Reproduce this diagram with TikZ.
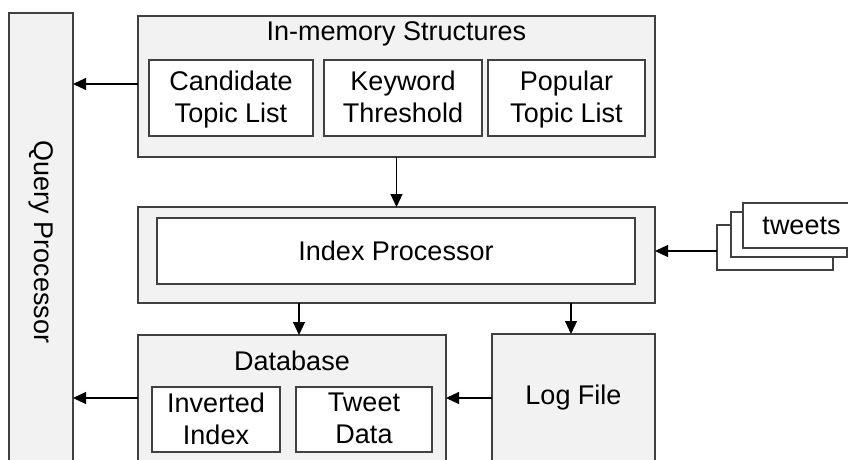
\documentclass[tikz,border=0pt]{standalone}
\usepackage{fontspec}
\setmainfont{Liberation Sans}
\usetikzlibrary{arrows.meta}
\definecolor{outerfill}{HTML}{F2F2F2}
\definecolor{edgecol}{HTML}{404040}
\begin{document}
\begin{tikzpicture}[x=1pt,y=-1pt,
  outerbox/.style={draw=edgecol,line width=1.2pt,fill=outerfill,inner sep=0pt,outer sep=0pt},
  innerbox/.style={draw=edgecol,line width=1.2pt,fill=white,inner sep=0pt,outer sep=0pt,align=center},
  twoline/.style={innerbox,text depth=2pt},
  lbl/.style={inner sep=0pt,align=center},
  arr/.style={line width=1.1pt,draw=black,-{Triangle[length=13pt,width=12pt]}},
  font=\fontsize{27}{32}\selectfont]
\clip (0,0) rectangle (848,460);
\fill[white] (0,0) rectangle (848,460);
% Query processor
\node[outerbox,rotate=-90,minimum width=458pt,minimum height=64pt] (qp) at (41,242) {Query Processor};
% In-memory structures
\node[outerbox,minimum width=517pt,minimum height=141pt] (inmem) at (396.5,86.5) {};
\node[lbl] (inmemt) at (396.5,34) {In-memory Structures};
\node[twoline,minimum width=164pt,minimum height=76pt] (cand) at (231,98) {Candidate\\Topic List};
\node[twoline,minimum width=158pt,minimum height=76pt] (kw) at (403,98) {Keyword\\Threshold};
\node[twoline,minimum width=157pt,minimum height=76pt] (pop) at (566.5,98) {Popular\\Topic List};
% Index processor
\node[outerbox,minimum width=517pt,minimum height=96pt] (idxo) at (396.5,255) {};
\node[innerbox,minimum width=478pt,minimum height=66pt] (idx) at (396,251) {Index Processor};
% tweets stack
\node[innerbox,minimum width=116pt,minimum height=45pt] (tw3) at (775,247.5) {};
\node[innerbox,minimum width=116pt,minimum height=45pt] (tw2) at (789,234.5) {};
\node[innerbox,minimum width=117pt,minimum height=45pt] (tw1) at (801.5,225.5) {tweets};
% Database
\node[outerbox,minimum width=308pt,minimum height=136pt] (db) at (292,403) {};
\node[lbl] (dbt) at (292,361) {Database};
\node[twoline,minimum width=128pt,minimum height=65pt] (inv) at (216,419.5) {Inverted\\Index};
\node[twoline,minimum width=136pt,minimum height=65pt] (twd) at (364,419.5) {Tweet\\Data};
% Log file
\node[outerbox,minimum width=163pt,minimum height=128pt] (log) at (573.5,398) {Log File};
% connectors
\draw[arr] ([yshift=2.5pt]inmem.west) -- ([yshift=2.5pt]inmem.west -| qp.north);
\draw[arr] (inmem.south) -- (idxo.north);
\draw[arr] ([yshift=-3.5pt]tw3.west) -- ([yshift=-3.5pt]tw3.west -| idxo.east);
\draw[arr] ([xshift=7pt]db.north |- idxo.south) -- ([xshift=7pt]db.north);
\draw[arr] ([xshift=-2.5pt]log.north |- idxo.south) -- ([xshift=-2.5pt]log.north);
\draw[arr] (log.west) -- (log.west -| db.east);
\draw[arr] (db.west |- log.west) -- (log.west -| qp.north);
\end{tikzpicture}
\end{document}
